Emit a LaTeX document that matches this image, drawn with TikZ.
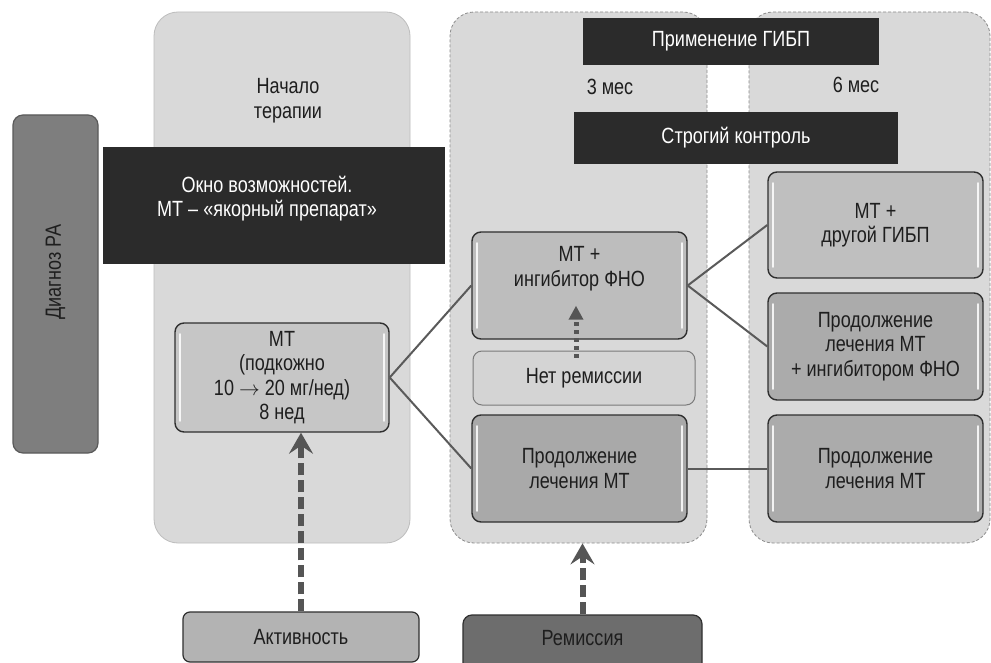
\documentclass[tikz,border=0pt]{standalone}
\usepackage{fontspec}
\setmainfont[FakeStretch=0.82]{Liberation Sans}
\usetikzlibrary{arrows.meta}
\definecolor{panelc}{HTML}{D9D9D9}
\definecolor{panelEdge}{HTML}{BDBDBD}
\definecolor{panelDash}{HTML}{8C8C8C}
\definecolor{blackc}{HTML}{2B2B2B}
\definecolor{txtc}{HTML}{1E1E1E}
\definecolor{edgec}{HTML}{2F2F2F}
\definecolor{connc}{HTML}{5A5A5A}
\definecolor{arrc}{HTML}{555555}
\definecolor{diagc}{HTML}{7E7E7E}
\definecolor{diagEdge}{HTML}{5A5A5A}
\definecolor{mtc}{HTML}{C6C6C6}
\definecolor{mtic}{HTML}{BDBDBD}
\definecolor{pmtc}{HTML}{A9A9A9}
\definecolor{mdgc}{HTML}{BFBFBF}
\definecolor{pmtic}{HTML}{ABABAB}
\definecolor{nrc}{HTML}{D4D4D4}
\definecolor{nrEdge}{HTML}{7A7A7A}
\definecolor{aktc}{HTML}{B3B3B3}
\definecolor{remc}{HTML}{6D6D6D}
\tikzset{
  base/.style={font=\fontsize{22pt}{24.5pt}\selectfont, align=center, text=txtc, inner sep=0pt},
  panel/.style={draw=#1, fill=panelc, rounded corners=24pt, line width=0.8pt, minimum height=531pt, inner sep=0pt},
  blk/.style={base, fill=blackc, text=white},
  bevbox/.style={base, draw=edgec, line width=1.4pt, rounded corners=9pt, fill=#1,
    minimum width=215pt, minimum height=107pt,
    path picture={
      \draw[white, line width=1.6pt, line cap=round, opacity=.85]
        ([xshift=5pt,yshift=-11pt]path picture bounding box.north west) -- ([xshift=5pt,yshift=11pt]path picture bounding box.south west)
        ([xshift=-5pt,yshift=-11pt]path picture bounding box.north east) -- ([xshift=-5pt,yshift=11pt]path picture bounding box.south east);
    }},
  conn/.style={draw=connc, line width=2pt},
  bigarr/.style={draw=arrc, line width=6pt, dash pattern=on 12pt off 5pt, -{Stealth[length=21pt,width=24pt,inset=8pt]}},
  dotarr/.style={draw=arrc, line width=5pt, dash pattern=on 4pt off 4pt, -{Triangle[length=14pt,width=14pt]}},
}
\begin{document}
\begin{tikzpicture}[x=1pt,y=-1pt]
\useasboundingbox (0,0) rectangle (991,663);
\fill[white] (0,0) rectangle (991,663);

% panels
\node[panel=panelEdge, minimum width=256pt] (p1) at (282,277.5) {};
\node[panel=panelDash, densely dashed, minimum width=257pt] (p2) at (578.5,277.5) {};
\node[panel=panelDash, densely dashed, minimum width=241pt] (p3) at (869.5,277.5) {};

% diagnosis
\node[draw=diagEdge, fill=diagc, rounded corners=10pt, line width=1.2pt, minimum width=85pt, minimum height=338pt] (diag) at (55.5,284) {};
\node[base, rotate=90] (diagt) at (55.5,272) {Диагноз РА};

% headers
\node[base] (nach) at (288,100.5) {Начало\\терапии};
\node[blk, minimum width=342pt, minimum height=117pt] (okno) at (274,205.5) {};
\node[base, text=white] (oknot) at (267,198.5) {Окно возможностей.\\МТ – «якорный препарат»};
\node[blk, minimum width=296pt, minimum height=47pt] (gibp) at (731,41.5) {Применение ГИБП};
\node[base] (m3) at (610,87) {3 мес};
\node[base] (m6) at (856,85) {6 мес};
\node[blk, minimum width=324pt, minimum height=52pt] (kontr) at (736,138) {Строгий контроль};

% boxes
\node[bevbox=mtc, minimum width=214pt, minimum height=109pt] (mt) at (282,377.5) {МТ\\(подкожно\\10 $\rightarrow$ 20 мг/нед)\\8 нед};
\node[bevbox=mtic] (mti) at (579.5,285.5) {};
\node[base] (mtit) at (579.5,268.5) {МТ +\\ингибитор ФНО};
\node[base, draw=nrEdge, fill=nrc, rounded corners=9pt, line width=1pt, minimum width=222pt, minimum height=54pt] (nr) at (584,378) {Нет ремиссии};
\node[bevbox=pmtc] (pmt) at (579.5,468.5) {Продолжение\\лечения МТ};
\node[bevbox=mdgc, minimum height=106pt] (mdg) at (875.5,225) {МТ +\\другой ГИБП};
\node[bevbox=pmtic] (pmti) at (875.5,346.5) {Продолжение\\лечения МТ\\+ ингибитором ФНО};
\node[bevbox=pmtic] (pmt2) at (875.5,468.5) {Продолжение\\лечения МТ};

% bottom
\node[base, draw=edgec, fill=aktc, rounded corners=7pt, line width=1.2pt, minimum width=236pt, minimum height=50pt] (akt) at (301,637) {Активность};
\node[draw=edgec, fill=remc, rounded corners=9pt, line width=1.2pt, minimum width=239pt, minimum height=70pt] (rem) at (582.5,650) {};
\node[base] (remt) at (582.5,638) {Ремиссия};

% connectors
\draw[conn] (mt.east) -- (mti.west);
\draw[conn] (mt.east) -- (pmt.west);
\draw[conn] (mti.east) -- (mdg.west);
\draw[conn] (mti.east) -- (pmti.west);
\draw[conn] (pmt.east) -- (pmt2.west);

% arrows
\draw[bigarr] (akt.north) -- (akt.north |- mt.south);
\draw[bigarr] (rem.north) -- (rem.north |- p2.south);
\draw[dotarr] ([xshift=-8pt,yshift=-7pt]nr.north) -- ([xshift=-3.5pt,yshift=34pt]mti.south);
\end{tikzpicture}
\end{document}
